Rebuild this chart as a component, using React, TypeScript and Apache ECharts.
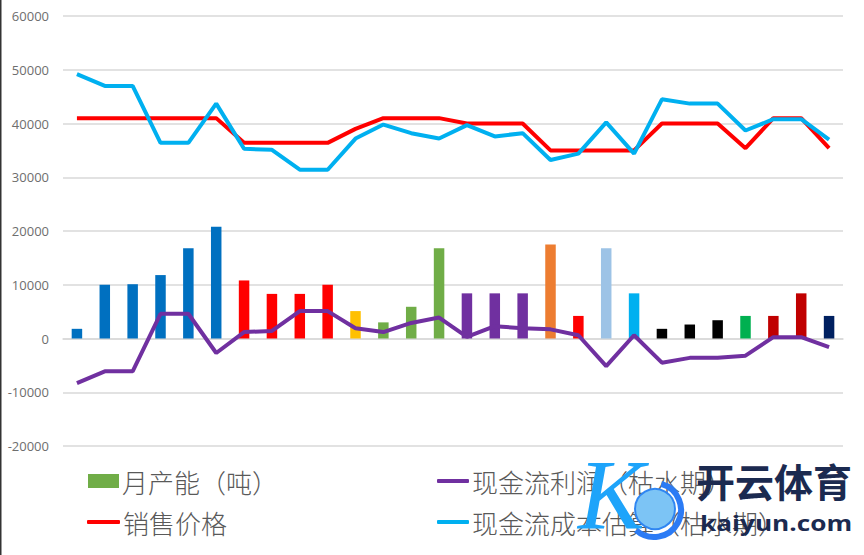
import React, { useEffect, useRef } from "react";
import * as echarts from "echarts";

const categories = Array.from({ length: 28 }, (_, i) => String(i + 1));
const yTicks = [-20000, -10000, 0, 10000, 20000, 30000, 40000, 50000, 60000];

const capacity = [1800, 10000, 10100, 11800, 16800, 20800, 10800, 8300, 8300, 10000, 5100, 3000, 5900, 16800, 8400, 8400, 8400, 17500, 4200, 16800, 8400, 1800, 2600, 3400, 4200, 4200, 8400, 4200];
const capacityColors = ["#0070C0", "#0070C0", "#0070C0", "#0070C0", "#0070C0", "#0070C0", "#FF0000", "#FF0000", "#FF0000", "#FF0000", "#FFC000", "#70AD47", "#70AD47", "#70AD47", "#7030A0", "#7030A0", "#7030A0", "#ED7D31", "#FF0000", "#9DC3E6", "#00B0F0", "#000000", "#000000", "#000000", "#00B050", "#C00000", "#C00000", "#002060"];
const salePrice = [41000, 41000, 41000, 41000, 41000, 41000, 36400, 36400, 36400, 36400, 39000, 41000, 41000, 41000, 40000, 40000, 40000, 35000, 35000, 35000, 35000, 40000, 40000, 40000, 35400, 41000, 41000, 35400];
const cashCost = [49200, 47000, 47000, 36400, 36400, 43700, 35300, 35100, 31400, 31400, 37200, 39800, 38200, 37200, 39700, 37600, 38200, 33200, 34400, 40200, 34400, 44500, 43700, 43700, 38700, 40800, 40800, 37000];
const cashProfit = [-8300, -6100, -6100, 4600, 4600, -2700, 1200, 1400, 5100, 5100, 1900, 1200, 2900, 3900, 300, 2300, 1900, 1700, 600, -5150, 600, -4500, -3600, -3600, -3200, 250, 250, -1600];

const CJK = '"Noto Sans CJK SC", sans-serif';
const NAMES = ["月产能（吨）", "现金流利润（枯水期）", "销售价格", "现金流成本估算（枯水期）"];
const MARK_CN = "开云体育";
const MARK_EN = "kaiyun.com";

export default function App() {
  const ref = useRef<HTMLDivElement>(null);
  useEffect(() => {
    const chart = echarts.init(ref.current!, undefined, { renderer: "svg" });
    const legendBase = { orient: "horizontal", textStyle: { color: "#595959", fontFamily: CJK, fontSize: 26, fontWeight: 300, padding: [0, 0, 0, -2] }, padding: 0, selectedMode: false };
    chart.setOption({
      animation: false,
      backgroundColor: "#ffffff",
      grid: { left: 63, right: 21, top: 16, bottom: 109, containLabel: false },
      xAxis: {
        type: "category",
        data: categories,
        axisLine: { onZero: true, lineStyle: { color: "#D9D9D9", width: 1.5 } },
        axisTick: { show: false },
        axisLabel: { show: false },
        splitLine: { show: false },
      },
      yAxis: {
        type: "value",
        min: yTicks[0],
        max: yTicks[yTicks.length - 1],
        interval: 10000,
        axisLine: { show: false },
        axisTick: { show: false },
        axisLabel: { color: "#6E6E6E", fontSize: 13, fontFamily: '"Open Sans", sans-serif', margin: 14, formatter: (v: number) => String(v) },
        splitLine: { lineStyle: { color: "#D9D9D9", width: 1.5 } },
      },
      legend: [
        { ...legendBase, data: [{ name: NAMES[0], icon: "rect" }], left: 88, top: 468, itemWidth: 31, itemHeight: 14 },
        { ...legendBase, data: [{ name: NAMES[1], icon: "roundRect" }], left: 437, top: 468, itemWidth: 32, itemHeight: 4 },
        { ...legendBase, data: [{ name: NAMES[2], icon: "roundRect" }], left: 87, top: 509, itemWidth: 33, itemHeight: 4 },
        { ...legendBase, data: [{ name: NAMES[3], icon: "roundRect" }], left: 437, top: 509, itemWidth: 32, itemHeight: 4 },
      ],
      series: [
        {
          name: NAMES[0],
          type: "bar",
          barWidth: 10.5,
          itemStyle: { color: "#70AD47" },
          data: capacity.map((value, i) => ({ value, itemStyle: { color: capacityColors[i] } })),
          z: 2,
        },
        { name: NAMES[2], type: "line", data: salePrice, showSymbol: false, symbol: "none", lineStyle: { color: "#FF0000", width: 4 }, itemStyle: { color: "#FF0000" }, z: 3 },
        { name: NAMES[3], type: "line", data: cashCost, showSymbol: false, symbol: "none", lineStyle: { color: "#00B0F0", width: 4 }, itemStyle: { color: "#00B0F0" }, z: 4 },
        { name: NAMES[1], type: "line", data: cashProfit, showSymbol: false, symbol: "none", lineStyle: { color: "#7030A0", width: 4 }, itemStyle: { color: "#7030A0" }, z: 5 },
      ],
      graphic: [
        { type: "rect", shape: { x: 0, y: 0, width: 1.5, height: 555 }, style: { fill: "#333333" }, z: 20 },
        { type: "arc", shape: { cx: 654, cy: 510, r: 27, startAngle: -1.3, endAngle: 2.3 }, style: { stroke: "#2B7BF5", lineWidth: 6, fill: "none" }, z: 30 },
        { type: "circle", shape: { cx: 655, cy: 509, r: 20 }, style: { fill: "#7CC4F5", stroke: "#2F86F2", lineWidth: 2 }, z: 31 },
        { type: "text", x: 578, y: 444, style: { text: "K", fill: "#1EA4FA", fontSize: 100, fontStyle: "italic", fontFamily: '"Liberation Serif", serif' }, z: 30 },
        { type: "text", x: 696, y: 460, style: { text: MARK_CN, fill: "#1B2A50", fontSize: 39, fontWeight: "bold", fontFamily: CJK }, z: 32 },
        { type: "text", x: 700, y: 511, scaleX: 1.19, style: { text: MARK_EN, fill: "#1B2A50", fontSize: 22, fontWeight: "bold", fontFamily: '"Open Sans", sans-serif' }, z: 32 },
      ],
    });
    return () => chart.dispose();
  }, []);
  return <div ref={ref} style={{ position: "fixed", left: 0, top: 0, width: 864, height: 555 }} />;
}
